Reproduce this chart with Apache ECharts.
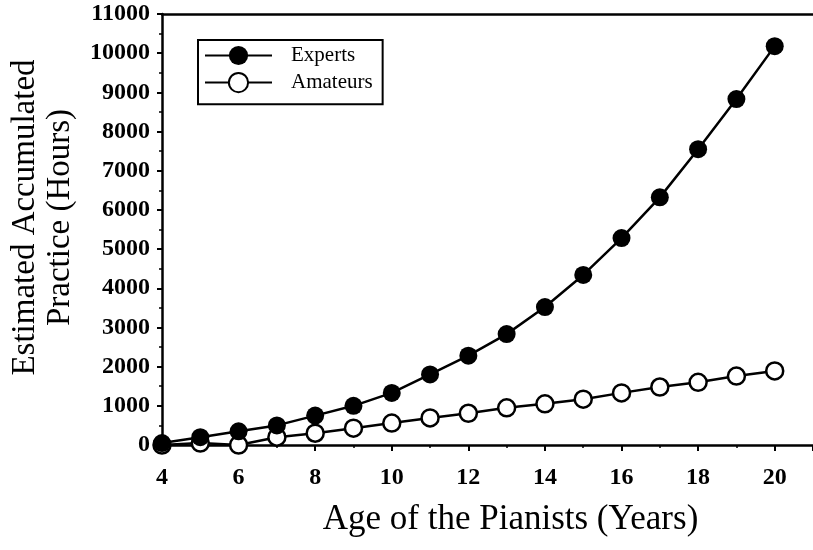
<!DOCTYPE html>
<html>
<head>
<meta charset="utf-8">
<script src="https://cdn.jsdelivr.net/npm/echarts@6/dist/echarts.min.js"></script>
<style>
  html, body { margin: 0; padding: 0; background: #fff; }
  #chart { width: 813px; height: 550px; }
</style>
</head>
<body>
<div id="chart"></div>
<script>
// ages (years)
const ages = [4, 5, 6, 7, 8, 9, 10, 11, 12, 13, 14, 15, 16, 17, 18, 19, 20]
// estimated accumulated practice (hours)
const experts = [50, 200, 350, 500, 750, 1000, 1330, 1800, 2280, 2830, 3520, 4340, 5280, 6320, 7550, 8830, 10180]
const amateurs = [0, 50, 0, 200, 300, 430, 560, 690, 810, 950, 1050, 1170, 1330, 1480, 1600, 1760, 1890]

const serif = '"Liberation Serif", "Times New Roman", serif'

function pairs(values) {
  return ages.map((a, i) => [a, values[i]])
}

const chart = echarts.init(document.getElementById('chart'))

const option = {
  animation: false,
  backgroundColor: '#fff',
  textStyle: { fontFamily: serif, color: '#000' },
  grid: {
    left: 160,
    right: -6,
    top: 14,
    bottom: 105
  },
  legend: {
    data: ['Experts', 'Amateurs'],
    orient: 'vertical',
    left: 198,
    top: 40,
    itemWidth: 67,
    itemHeight: 24,
    itemGap: 6,
    padding: [5, 10, 11, 6],
    borderColor: '#000',
    borderWidth: 2,
    textStyle: { fontFamily: serif, fontSize: 21, color: '#000', padding: [0, 0, 0, 14] }
  },
  xAxis: [
    {
      type: 'value',
      min: 4,
      max: 21,
      interval: 2,
      name: 'Age of the Pianists (Years)',
      nameLocation: 'middle',
      nameGap: 57,
      nameTextStyle: { fontFamily: serif, fontSize: 35, color: '#000', padding: [0, 0, 0, 46] },
      splitLine: { show: false },
      axisLine: { show: true, lineStyle: { color: '#000', width: 2.5 } },
      axisTick: { show: true, inside: false, length: 6, lineStyle: { color: '#000', width: 2 } },
      minorTick: { show: true, splitNumber: 2, length: 3, lineStyle: { color: '#000', width: 1.5 } },
      axisLabel: {
        showMaxLabel: false,
        margin: 21,
        fontFamily: serif,
        fontSize: 24,
        fontWeight: 'bold',
        color: '#000'
      }
    },
    {
      type: 'value',
      position: 'top',
      min: 4,
      max: 21,
      axisLine: { show: true, lineStyle: { color: '#000', width: 2.5 } },
      axisTick: { show: false },
      axisLabel: { show: false },
      splitLine: { show: false }
    }
  ],
  yAxis: {
    type: 'value',
    min: 0,
    max: 11000,
    interval: 1000,
    name: 'Estimated Accumulated\nPractice (Hours)',
    nameLocation: 'middle',
    nameRotate: 90,
    nameGap: 84,
    nameTextStyle: { fontFamily: serif, fontSize: 33, lineHeight: 35, color: '#000', padding: [0, 0, 0, 24] },
    splitLine: { show: false },
    axisLine: { show: true, lineStyle: { color: '#000', width: 2.5 } },
    axisTick: { show: true, inside: false, length: 5, lineStyle: { color: '#000', width: 2 } },
    minorTick: { show: true, splitNumber: 2, length: 3, lineStyle: { color: '#000', width: 1.5 } },
    axisLabel: {
      margin: 12,
      fontFamily: serif,
      fontSize: 24,
      fontWeight: 'bold',
      color: '#000',
      formatter: v => String(v)
    }
  },
  series: [
    {
      name: 'Amateurs',
      type: 'line',
      data: pairs(amateurs),
      symbol: 'circle',
      symbolSize: 17,
      lineStyle: { color: '#000', width: 2.5 },
      itemStyle: { color: '#fff', borderColor: '#000', borderWidth: 2.5 },
      z: 3
    },
    {
      name: 'Experts',
      type: 'line',
      data: pairs(experts),
      symbol: 'circle',
      symbolSize: 18,
      lineStyle: { color: '#000', width: 2.5 },
      itemStyle: { color: '#000', borderColor: '#000', borderWidth: 0 },
      z: 4
    }
  ]
}

chart.setOption(option)
</script>
</body>
</html>
